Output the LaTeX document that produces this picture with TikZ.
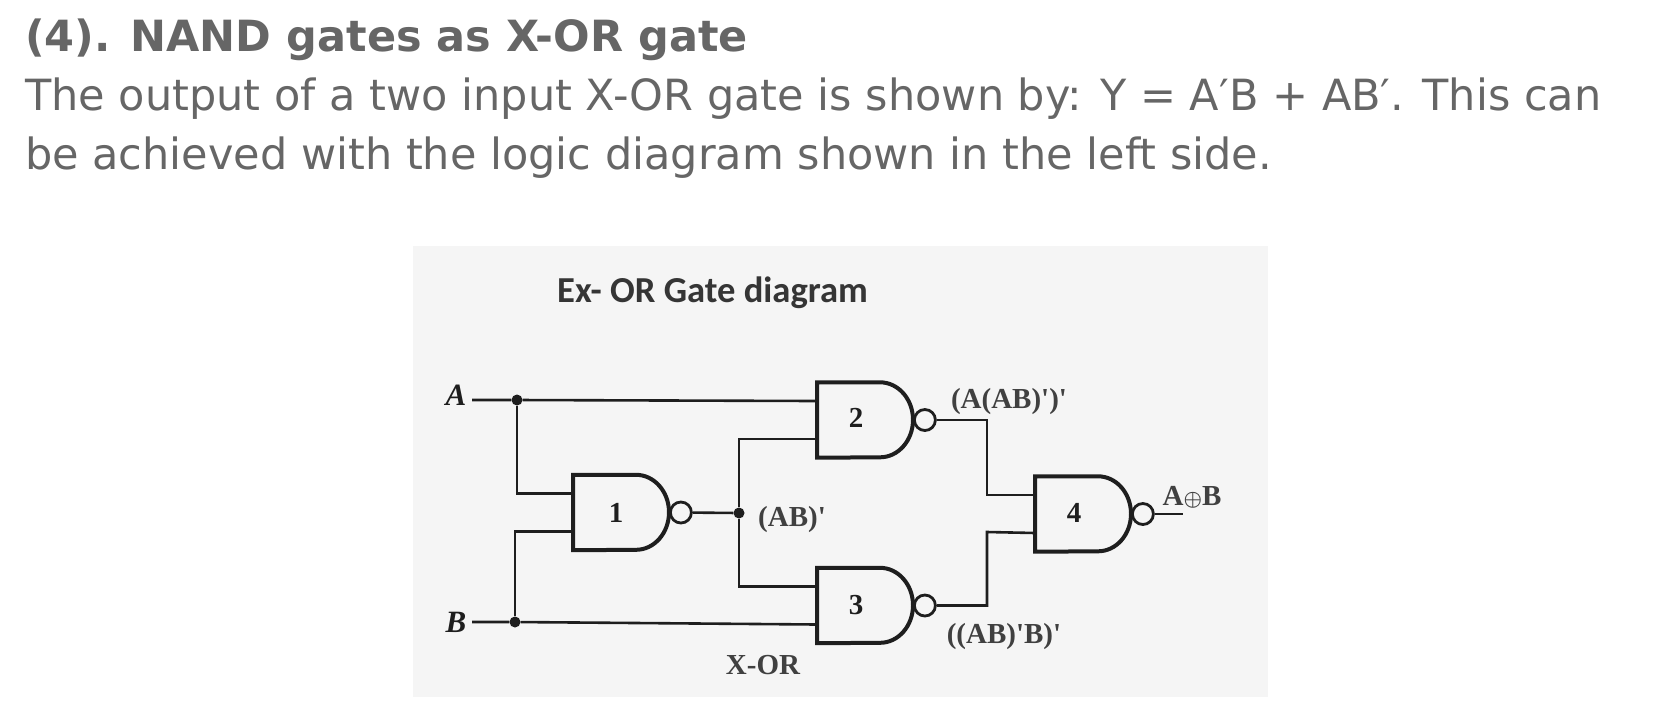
\documentclass[tikz,border=0pt]{standalone}
\usepackage{fontspec}
\setmainfont{DejaVu Sans}
\newfontfamily\lblfont{Liberation Serif}
\newfontfamily\ttlfont{Carlito}
\definecolor{txtgray}{HTML}{666666}
\definecolor{panelgray}{HTML}{F5F5F5}
\definecolor{inkgray}{HTML}{1E1E1E}
\tikzset{
  headtxt/.style={anchor=base west, inner sep=0pt, text=txtgray, font=\fontsize{43}{43}\selectfont},
  wire/.style={line width=2.6pt, inkgray},
  gatebox/.style={anchor=west, minimum width=78pt, minimum height=75pt, inner sep=0pt,
    text=inkgray, font=\lblfont\bfseries\fontsize{29}{29}\selectfont},
  gateline/.style={line width=4pt, inkgray, line join=miter},
  bubble/.style={circle, draw=inkgray, line width=2.8pt, fill=panelgray, inner sep=0pt, minimum size=21pt, anchor=west},
  lbl/.style={inner sep=0pt, text=inkgray!85, font=\lblfont\bfseries\fontsize{29}{29}\selectfont},
  inlbl/.style={inner sep=0pt, text=inkgray, font=\lblfont\bfseries\itshape\fontsize{31}{31}\selectfont},
  jdot/.style={circle, fill=inkgray, inner sep=0pt, minimum size=11pt}
}
% gate body, bubble and the two input points
\newcommand{\nandgate}[3]{
  \node[gatebox] (#1) at (#2) {#3};
  \draw[gateline] (#1.north west) -- ++(63pt,0pt) arc (90:-90:33pt and 37.5pt) -- (#1.south west) -- cycle;
  \node[bubble] (#1b) at ([xshift=96pt]#1.west) {};
  \coordinate (#1i) at ([yshift=19pt]#1.west);
  \coordinate (#1j) at ([yshift=-19pt]#1.west);
}
\begin{document}
\begin{tikzpicture}[x=1pt,y=-1pt]
  \useasboundingbox (0,0) rectangle (1670,724);
  \fill[white] (0,0) rectangle (1670,724);
  \node[headtxt, font=\bfseries\fontsize{43}{43}\selectfont] (head) at (25,51) {(4). NAND gates as X-OR gate};
  \node[headtxt] (lineone) at (25,110) {The output of a two input X-OR gate is shown by: Y = A′B + AB′. This can};
  \node[headtxt] (linetwo) at (25,169) {be achieved with the logic diagram shown in the left side.};
  \fill[panelgray] (413,246) rectangle (1268,697);
  \node[anchor=base west, inner sep=0pt, text=inkgray!90, font=\ttlfont\bfseries\fontsize{36.6}{36.6}\selectfont] (title) at (557,302) {Ex- OR Gate diagram};
  % gates
  \nandgate{ga}{573,512.5}{\hspace*{8pt}1}
  \nandgate{gb}{817,420}{\raisebox{4pt}{2}}
  \nandgate{gc}{817,605.5}{\raisebox{2pt}{3}}
  \nandgate{gd}{1035,514}{\raisebox{3pt}{4}}
  % inputs
  \node[inlbl] (A) at (456,395) {A};
  \node[inlbl] (B) at (456,622) {B};
  \coordinate (ain) at (472,400);
  \coordinate (bin) at (472,622);
  \node[jdot] (ja) at (517,400) {};
  \node[jdot] (jb) at (515,622) {};
  \node[jdot] (jab) at (739,513) {};
  \coordinate (out) at (1183,514);
  \coordinate (mid) at (987,495);
  \coordinate (mie) at (987,532);
  \draw[wire] (ain) -- (ja) -- (gbi);
  \draw[wire] (bin) -- (jb) -- (gcj);
  \draw[wire] (ja) |- (gai);
  \draw[wire] (jb) |- (gaj);
  \draw[wire] (gab) -- (jab);
  \draw[wire] (jab) |- (gbj);
  \draw[wire] (jab) |- (gci);
  \draw[wire] (gbb) -| (mid) -- (gdi);
  \draw[wire] (gcb) -| (mie) -- (gdj);
  \draw[wire] (gdb) -- (out);
  % labels
  \node[lbl] (ab) at (792,520) {(AB)'};
  \node[lbl] (xor) at (763,665) {X-OR};
  \node[lbl] (top) at (1009,402) {(A(AB)')'};
  \node[lbl] (bot) at (1004,637) {((AB)'B)'};
  \node[lbl] (res) at (1192,497) {A{\fontsize{20}{20}\selectfont\boldmath$\oplus$}B};
\end{tikzpicture}
\end{document}
